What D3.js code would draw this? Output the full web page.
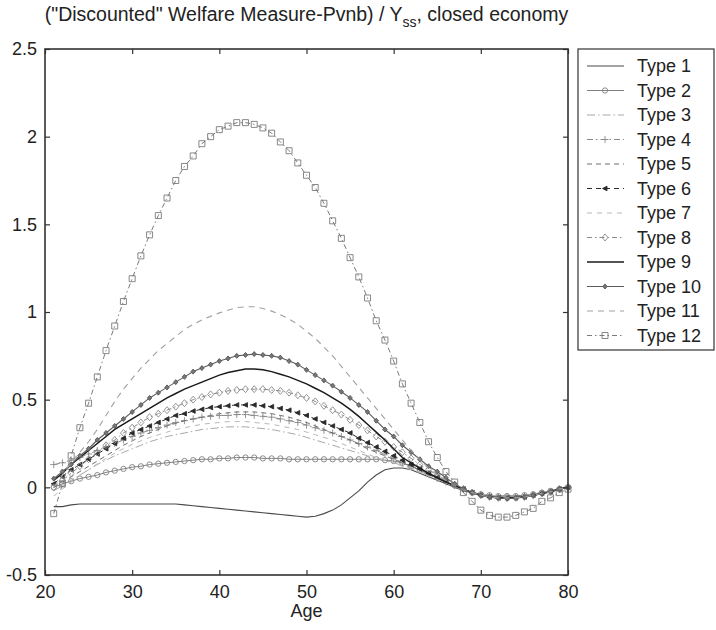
<!DOCTYPE html>
<html>
<head>
<meta charset="utf-8">
<script src="https://cdn.jsdelivr.net/npm/d3@7"></script>
<style>
  body { margin: 0; background: #fff; }
  text { font-family: "Liberation Sans", Arial, sans-serif; fill: #222; }
</style>
</head>
<body>
<div id="chart"></div>
<script>
// ages on the x axis (one point per year)
var ages = [21,22,23,24,25,26,27,28,29,30,31,32,33,34,35,36,37,38,39,40,
            41,42,43,44,45,46,47,48,49,50,51,52,53,54,55,56,57,58,59,60,
            61,62,63,64,65,66,67,68,69,70,71,72,73,74,75,76,77,78,79,80];

var typeNames = ["Type 1","Type 2","Type 3","Type 4","Type 5","Type 6",
                 "Type 7","Type 8","Type 9","Type 10","Type 11","Type 12"];

// values, ages 21..80
var type1 = [-0.11,-0.11,-0.10,-0.095,-0.095,-0.095,-0.095,-0.095,-0.095,-0.095,
             -0.095,-0.095,-0.095,-0.095,-0.095,-0.10,-0.105,-0.11,-0.115,-0.12,
             -0.125,-0.13,-0.135,-0.14,-0.145,-0.15,-0.155,-0.16,-0.165,-0.17,
             -0.165,-0.15,-0.13,-0.10,-0.06,-0.02,0.03,0.07,0.10,0.11,
             0.11,0.10,0.08,0.06,0.04,0.02,0.0,-0.02,-0.03,-0.04,
             -0.05,-0.05,-0.05,-0.05,-0.045,-0.04,-0.03,-0.02,-0.01,0.0];
var type2 = [0.0,0.02,0.035,0.05,0.06,0.07,0.085,0.095,0.105,0.115,
             0.12,0.13,0.135,0.14,0.145,0.15,0.155,0.16,0.16,0.165,
             0.165,0.17,0.17,0.17,0.165,0.165,0.165,0.16,0.16,0.16,
             0.16,0.16,0.16,0.16,0.16,0.16,0.16,0.16,0.155,0.15,
             0.14,0.12,0.10,0.08,0.06,0.035,0.01,-0.01,-0.03,-0.04,
             -0.045,-0.05,-0.05,-0.05,-0.045,-0.04,-0.03,-0.02,-0.01,0.0];
var type3 = [-0.02,0.01,0.04,0.07,0.10,0.13,0.155,0.18,0.20,0.22,
             0.24,0.26,0.275,0.29,0.30,0.31,0.32,0.33,0.335,0.34,
             0.345,0.345,0.345,0.34,0.335,0.33,0.32,0.31,0.30,0.285,
             0.27,0.255,0.24,0.225,0.21,0.195,0.18,0.165,0.15,0.14,
             0.125,0.11,0.09,0.07,0.05,0.03,0.01,-0.01,-0.03,-0.04,
             -0.045,-0.05,-0.05,-0.05,-0.045,-0.04,-0.03,-0.02,-0.01,0.0];
var type4 = [0.13,0.14,0.155,0.17,0.19,0.21,0.23,0.25,0.27,0.29,
             0.31,0.325,0.34,0.355,0.37,0.38,0.39,0.40,0.405,0.41,
             0.41,0.415,0.415,0.41,0.405,0.40,0.39,0.38,0.37,0.355,
             0.34,0.325,0.31,0.29,0.27,0.25,0.23,0.21,0.19,0.165,
             0.14,0.12,0.10,0.075,0.05,0.03,0.01,-0.01,-0.03,-0.04,
             -0.05,-0.055,-0.055,-0.055,-0.05,-0.045,-0.035,-0.025,-0.01,0.0];
var type5 = [0.0,0.03,0.06,0.09,0.12,0.15,0.18,0.21,0.24,0.265,
             0.29,0.31,0.33,0.35,0.365,0.38,0.39,0.40,0.41,0.42,
             0.425,0.43,0.43,0.43,0.425,0.42,0.41,0.40,0.385,0.37,
             0.35,0.33,0.31,0.29,0.27,0.245,0.22,0.20,0.18,0.16,
             0.14,0.12,0.10,0.075,0.05,0.03,0.01,-0.01,-0.03,-0.045,
             -0.05,-0.055,-0.06,-0.055,-0.05,-0.045,-0.035,-0.025,-0.01,0.0];
var type6 = [0.02,0.06,0.10,0.13,0.16,0.19,0.22,0.25,0.28,0.31,
             0.33,0.35,0.37,0.39,0.41,0.42,0.435,0.445,0.455,0.46,
             0.465,0.47,0.47,0.47,0.465,0.46,0.45,0.44,0.425,0.41,
             0.39,0.37,0.35,0.33,0.31,0.28,0.255,0.23,0.205,0.18,
             0.155,0.13,0.105,0.08,0.055,0.03,0.01,-0.01,-0.03,-0.045,
             -0.055,-0.06,-0.06,-0.06,-0.055,-0.045,-0.035,-0.025,-0.01,0.0];
var type7 = [-0.05,-0.01,0.03,0.07,0.10,0.135,0.165,0.195,0.22,0.245,
             0.265,0.285,0.30,0.315,0.33,0.34,0.35,0.36,0.365,0.37,
             0.375,0.375,0.375,0.37,0.365,0.36,0.35,0.34,0.33,0.315,
             0.30,0.285,0.27,0.25,0.23,0.21,0.19,0.17,0.155,0.14,
             0.12,0.10,0.085,0.065,0.045,0.025,0.005,-0.015,-0.03,-0.04,
             -0.045,-0.05,-0.05,-0.05,-0.045,-0.04,-0.03,-0.02,-0.01,0.0];
var type8 = [0.0,0.04,0.08,0.12,0.16,0.20,0.24,0.27,0.31,0.34,
             0.37,0.40,0.42,0.44,0.46,0.48,0.50,0.515,0.53,0.54,
             0.55,0.555,0.56,0.56,0.56,0.555,0.55,0.54,0.525,0.51,
             0.49,0.465,0.44,0.415,0.385,0.355,0.325,0.29,0.26,0.23,
             0.20,0.165,0.13,0.10,0.07,0.04,0.015,-0.01,-0.03,-0.045,
             -0.055,-0.06,-0.06,-0.06,-0.055,-0.045,-0.035,-0.025,-0.01,0.0];
var type9 = [0.04,0.08,0.13,0.17,0.21,0.25,0.29,0.33,0.36,0.39,
             0.42,0.45,0.48,0.51,0.535,0.56,0.58,0.60,0.62,0.64,
             0.655,0.665,0.675,0.675,0.67,0.66,0.645,0.63,0.61,0.59,
             0.565,0.54,0.51,0.48,0.445,0.405,0.36,0.315,0.27,0.22,
             0.17,0.14,0.11,0.08,0.055,0.03,0.01,-0.01,-0.03,-0.045,
             -0.055,-0.06,-0.06,-0.06,-0.055,-0.045,-0.035,-0.025,-0.01,0.0];
var type10 = [0.05,0.09,0.13,0.18,0.22,0.27,0.31,0.35,0.39,0.43,
              0.47,0.51,0.54,0.57,0.60,0.63,0.66,0.68,0.70,0.72,
              0.735,0.75,0.755,0.76,0.755,0.75,0.74,0.72,0.70,0.67,
              0.64,0.61,0.58,0.545,0.51,0.47,0.43,0.38,0.33,0.29,
              0.24,0.20,0.16,0.12,0.09,0.055,0.02,-0.01,-0.03,-0.045,
              -0.055,-0.06,-0.065,-0.06,-0.055,-0.045,-0.035,-0.025,-0.01,0.0];
var type11 = [0.0,0.07,0.14,0.20,0.26,0.33,0.41,0.49,0.56,0.62,
              0.68,0.73,0.78,0.82,0.86,0.90,0.93,0.955,0.975,0.995,
              1.01,1.025,1.03,1.03,1.02,1.005,0.985,0.96,0.93,0.89,
              0.85,0.80,0.75,0.69,0.63,0.57,0.51,0.45,0.39,0.33,
              0.27,0.21,0.16,0.11,0.07,0.04,0.01,-0.015,-0.03,-0.045,
              -0.055,-0.06,-0.06,-0.06,-0.055,-0.045,-0.035,-0.025,-0.01,0.0];
var type12 = [-0.15,0.02,0.18,0.34,0.48,0.63,0.78,0.92,1.06,1.19,
              1.32,1.44,1.55,1.65,1.75,1.83,1.89,1.96,2.0,2.04,
              2.06,2.08,2.08,2.07,2.05,2.02,1.97,1.92,1.85,1.78,
              1.71,1.62,1.52,1.42,1.31,1.2,1.08,0.95,0.84,0.72,
              0.59,0.48,0.37,0.26,0.17,0.09,0.03,-0.03,-0.08,-0.13,
              -0.16,-0.17,-0.17,-0.16,-0.14,-0.12,-0.08,-0.06,-0.03,-0.01];

// tick values and their labels
var xTicks = [20,30,40,50,60,70,80];
var yTicks = [-0.5,0,0.5,1,1.5,2,2.5];
var yTickLabels = ["-0.5","0","0.5","1","1.5","2","2.5"];

var allSeries = [type1,type2,type3,type4,type5,type6,type7,type8,type9,type10,type11,type12];

// line style per series (matlab grayscale print look)
var styles = [
  {color: "#4a4a4a", dash: null, width: 1.1, marker: null},
  {color: "#808080", dash: null, width: 1, marker: "circle"},
  {color: "#a8a8a8", dash: "8,3,1.5,3", width: 1, marker: null},
  {color: "#8a8a8a", dash: "6,3,1.5,3", width: 1, marker: "plus"},
  {color: "#6e6e6e", dash: "5,4", width: 1, marker: null},
  {color: "#2a2a2a", dash: "5,4", width: 1, marker: "triangle"},
  {color: "#b8b8b8", dash: "5,5", width: 1, marker: null},
  {color: "#8a8a8a", dash: "5,3,1.5,3", width: 1, marker: "diamond"},
  {color: "#1a1a1a", dash: null, width: 1.5, marker: null},
  {color: "#5c5c5c", dash: null, width: 1.1, marker: "dot"},
  {color: "#a0a0a0", dash: "6,5", width: 1.1, marker: null},
  {color: "#7a7a7a", dash: "5,3,1.5,3", width: 1, marker: "square"}
];

var width = 716, height = 630;
var margin = {top: 49, right: 148, bottom: 55, left: 45};

var svg = d3.select("#chart")
    .append("svg")
    .attr("width", width)
    .attr("height", height);

svg.append("rect").attr("width", width).attr("height", height).attr("fill", "#fff");

var x = d3.scaleLinear()
    .domain([20, 80])
    .range([margin.left, width - margin.right]);

var y = d3.scaleLinear()
    .domain([-0.5, 2.5])
    .range([height - margin.bottom, margin.top]);

// marker shapes
function markerPath(kind) {
  if (kind == "circle") return d3.symbol().type(d3.symbolCircle).size(22)();
  if (kind == "square") return "M-3,-3H3V3H-3Z";
  if (kind == "plus") return "M-3.5,0H3.5M0,-3.5V3.5";
  if (kind == "triangle") return "M-2.5,0L2,-2.3L2,2.3Z";
  if (kind == "diamond") return "M0,-3.5L3,0L0,3.5L-3,0Z";
  if (kind == "dot") return "M0,-2.5L2.2,0L0,2.5L-2.2,0Z";
  return null;
}
function markerFill(kind, color) {
  if (kind == "triangle") return color;
  if (kind == "dot") return "#777";
  return "none";
}

// draw the curves
var plot = svg.append("g");
allSeries.forEach(function(values, i) {
  var st = styles[i];
  var data = ages.map(function(a, k) { return {age: a, v: values[k]}; });
  plot.append("path")
      .datum(data)
      .attr("fill", "none")
      .attr("stroke", st.color)
      .attr("stroke-width", st.width)
      .attr("stroke-dasharray", st.dash)
      .attr("d", d3.line()
          .x(function(d) { return x(d.age); })
          .y(function(d) { return y(d.v); }));
  if (st.marker) {
    plot.append("g").selectAll("path")
        .data(data)
        .enter().append("path")
        .attr("transform", function(d) { return "translate(" + x(d.age) + "," + y(d.v) + ")"; })
        .attr("d", markerPath(st.marker))
        .attr("fill", markerFill(st.marker, st.color))
        .attr("stroke", st.marker == "dot" ? "#555" : st.color)
        .attr("stroke-width", 0.9);
  }
});

// axes: box with inward ticks on every side
var axisColor = "#333";
var xAxis = svg.append("g")
    .attr("transform", "translate(0," + y(-0.5) + ")")
    .call(d3.axisBottom(x).tickValues(xTicks).tickSize(-5).tickPadding(10).tickFormat(d3.format("d")));
var xAxisTop = svg.append("g")
    .attr("transform", "translate(0," + y(2.5) + ")")
    .call(d3.axisTop(x).tickValues(xTicks).tickSize(-5).tickFormat(""));
var yAxis = svg.append("g")
    .attr("transform", "translate(" + x(20) + ",0)")
    .call(d3.axisLeft(y).tickValues(yTicks).tickSize(-5).tickPadding(8)
        .tickFormat(function(d, i) { return yTickLabels[i]; }));
var yAxisRight = svg.append("g")
    .attr("transform", "translate(" + x(80) + ",0)")
    .call(d3.axisRight(y).tickValues(yTicks).tickSize(-5).tickFormat(""));

[xAxis, xAxisTop, yAxis, yAxisRight].forEach(function(a) {
  a.select(".domain").remove();
  a.selectAll(".tick line").attr("stroke", axisColor).attr("stroke-width", 1.2);
  a.selectAll(".tick text")
      .style("font-family", "'Liberation Sans', Arial, sans-serif")
      .style("font-size", "18px")
      .attr("fill", "#222");
});

svg.append("rect")
    .attr("x", x(20))
    .attr("y", y(2.5))
    .attr("width", x(80) - x(20))
    .attr("height", y(-0.5) - y(2.5))
    .attr("fill", "none")
    .attr("stroke", axisColor)
    .attr("stroke-width", 1.6);

// axis label
svg.append("text")
    .attr("x", (x(20) + x(80)) / 2)
    .attr("y", 617)
    .attr("text-anchor", "middle")
    .style("font-size", "18px")
    .text("Age");

// title with subscript
var title = svg.append("text")
    .attr("x", (x(20) + x(80)) / 2)
    .attr("y", 21)
    .attr("text-anchor", "middle")
    .style("font-size", "19.5px");
title.append("tspan").text("(\"Discounted\" Welfare Measure-Pvnb) / Y");
title.append("tspan").attr("dy", 6).style("font-size", "14px").text("ss");
title.append("tspan").attr("dy", -6).text(", closed economy");

// legend
var legX = 578, legY = 49, legW = 136, legH = 301;
var legend = svg.append("g");
legend.append("rect")
    .attr("x", legX).attr("y", legY)
    .attr("width", legW).attr("height", legH)
    .attr("fill", "#fff")
    .attr("stroke", axisColor)
    .attr("stroke-width", 1.2);

typeNames.forEach(function(name, i) {
  var st = styles[i];
  var ry = legY + 17 + i * 24.5;
  legend.append("line")
      .attr("x1", legX + 9).attr("x2", legX + 46)
      .attr("y1", ry).attr("y2", ry)
      .attr("stroke", st.color)
      .attr("stroke-width", st.width)
      .attr("stroke-dasharray", st.dash);
  if (st.marker) {
    legend.append("path")
        .attr("transform", "translate(" + (legX + 27) + "," + ry + ")")
        .attr("d", markerPath(st.marker))
        .attr("fill", markerFill(st.marker, st.color))
        .attr("stroke", st.marker == "dot" ? "#555" : st.color)
        .attr("stroke-width", 0.9);
  }
  legend.append("text")
      .attr("x", legX + 59)
      .attr("y", ry)
      .attr("dy", "0.36em")
      .style("font-size", "18px")
      .text(name);
});
</script>
</body>
</html>
